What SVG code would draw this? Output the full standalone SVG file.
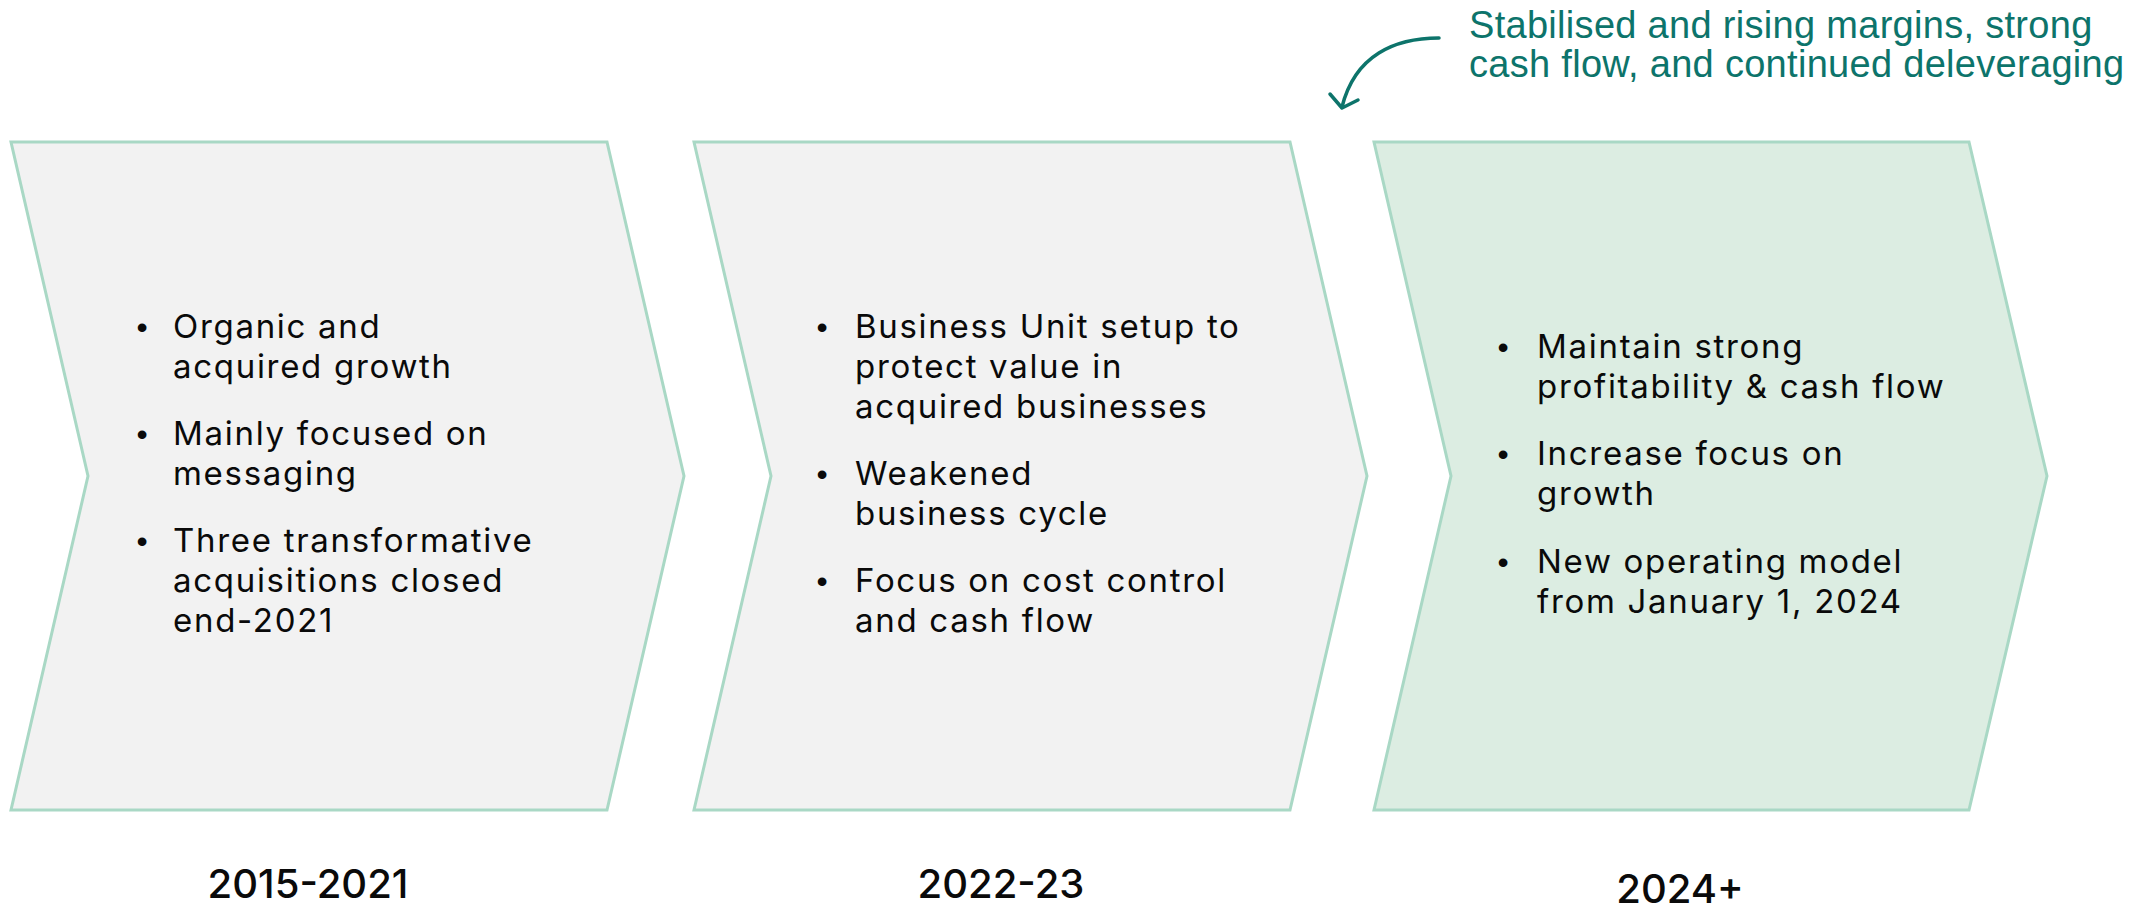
<svg xmlns="http://www.w3.org/2000/svg" width="2156" height="910" viewBox="0 0 2156 910">
<style>
.chev{fill:#f2f2f2;stroke:#a9d8c5;stroke-width:3;stroke-linejoin:miter}
.chev3{fill:#dcede2}
.body{font-family:Inter,"Liberation Sans",sans-serif;font-size:33px;fill:#0a0a0a;letter-spacing:1.7px}
.bul{font-family:"Liberation Sans",sans-serif;font-size:32px;fill:#0a0a0a;text-anchor:middle}
.year{font-family:Inter,"Liberation Sans",sans-serif;font-size:40px;fill:#0a0a0a;text-anchor:middle;font-weight:500}
.note{font-family:"Liberation Sans",sans-serif;font-size:38px;fill:#0d746b;letter-spacing:0.3px}
.conn{fill:none;stroke:#0d746b;stroke-width:3.5;stroke-linecap:round;stroke-linejoin:round}
</style>
<rect width="2156" height="910" fill="#ffffff"/>
<g id="node-2015-2021">
<polygon class="chev" points="11,142 607,142 684,476 607,810 11,810 88,476"/>
<text class="bul" x="142" y="338">•</text>
<text class="body" x="173" y="338">Organic and</text>
<text class="body" x="173" y="378">acquired growth</text>
<text class="bul" x="142" y="445">•</text>
<text class="body" x="173" y="445">Mainly focused on</text>
<text class="body" x="173" y="485">messaging</text>
<text class="bul" x="142" y="552">•</text>
<text class="body" x="173" y="552">Three transformative</text>
<text class="body" x="173" y="592">acquisitions closed</text>
<text class="body" x="173" y="632">end-2021</text>
<text class="year" x="308" y="898">2015-2021</text>
</g>
<g id="node-2022-23">
<polygon class="chev" points="694,142 1290,142 1367,476 1290,810 694,810 771,476"/>
<text class="bul" x="822" y="338">•</text>
<text class="body" x="855" y="338">Business Unit setup to</text>
<text class="body" x="855" y="378">protect value in</text>
<text class="body" x="855" y="418">acquired businesses</text>
<text class="bul" x="822" y="485">•</text>
<text class="body" x="855" y="485">Weakened</text>
<text class="body" x="855" y="525">business cycle</text>
<text class="bul" x="822" y="592">•</text>
<text class="body" x="855" y="592">Focus on cost control</text>
<text class="body" x="855" y="632">and cash flow</text>
<text class="year" x="1001" y="898">2022-23</text>
</g>
<g id="node-2024">
<polygon class="chev chev3" points="1374,142 1969,142 2047,476 1969,810 1374,810 1451,476"/>
<text class="bul" x="1503" y="358">•</text>
<text class="body" x="1537" y="358">Maintain strong</text>
<text class="body" x="1537" y="398">profitability &amp; cash flow</text>
<text class="bul" x="1503" y="465">•</text>
<text class="body" x="1537" y="465">Increase focus on</text>
<text class="body" x="1537" y="505">growth</text>
<text class="bul" x="1503" y="573">•</text>
<text class="body" x="1537" y="573">New operating model</text>
<text class="body" x="1537" y="613">from January 1, 2024</text>
<text class="year" x="1680" y="903">2024+</text>
</g>
<g id="note">
<text class="note" x="1469" y="38">Stabilised and rising margins, strong</text>
<text class="note" x="1469" y="77">cash flow, and continued deleveraging</text>
</g>
<g id="connectors">
<path class="conn" d="M1439,38 C1395,38 1355,55 1342,107"/>
<path class="conn" d="M1330,94 L1342,108 L1358,100"/>
</g>
</svg>
